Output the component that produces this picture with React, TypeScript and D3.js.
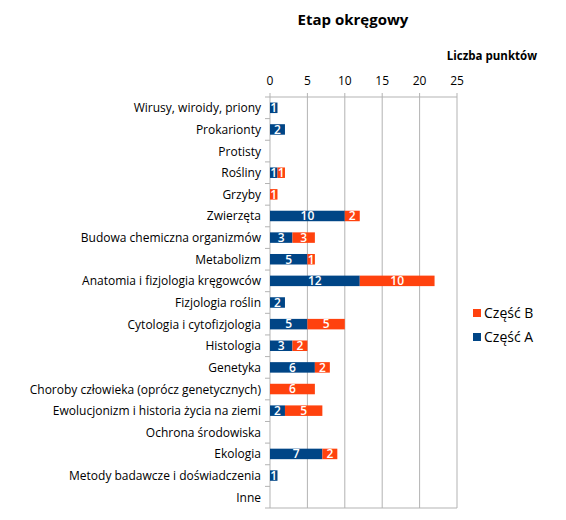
import { useEffect, useRef } from "react";
import * as d3 from "d3";

const categories = [
  "Wirusy, wiroidy, priony",
  "Prokarionty",
  "Protisty",
  "Rośliny",
  "Grzyby",
  "Zwierzęta",
  "Budowa chemiczna organizmów",
  "Metabolizm",
  "Anatomia i fizjologia kręgowców",
  "Fizjologia roślin",
  "Cytologia i cytofizjologia",
  "Histologia",
  "Genetyka",
  "Choroby człowieka (oprócz genetycznych)",
  "Ewolucjonizm i historia życia na ziemi",
  "Ochrona środowiska",
  "Ekologia",
  "Metody badawcze i doświadczenia",
  "Inne",
];
const partA = [1, 2, 0, 1, 0, 10, 3, 5, 12, 2, 5, 3, 6, 0, 2, 0, 7, 1, 0];
const partB = [0, 0, 0, 1, 1, 2, 3, 1, 10, 0, 5, 2, 2, 6, 5, 0, 2, 0, 0];
const xTicks = [0, 5, 10, 15, 20, 25];

const BLUE = "#004586";
const ORANGE = "#ff420e";
const FONT = "'Open Sans', sans-serif";

export default function App() {
  const svgRef = useRef<SVGSVGElement | null>(null);

  useEffect(() => {
    if (!svgRef.current) return;
    const svg = d3.select(svgRef.current);
    svg.selectAll("*").remove();

    const left = 270, right = 457, top = 97, bottom = 508;
    const x = d3.scaleLinear().domain([0, 25]).range([left, right]);
    const y = d3.scaleBand().domain(categories).range([top, bottom]).paddingInner(0);
    const barH = 10.5;

    // title
    svg.append("text").attr("x", 353).attr("y", 25).attr("text-anchor", "middle")
      .attr("font-family", FONT).attr("font-size", 15).attr("font-weight", "bold")
      .attr("fill", "#000").text("Etap okręgowy");
    svg.append("text").attr("x", 537).attr("y", 60).attr("text-anchor", "end")
      .attr("font-family", FONT).attr("font-size", 11.5).attr("font-weight", "bold")
      .attr("fill", "#000").text("Liczba punktów");

    // grid lines
    svg.append("g").selectAll("line").data(xTicks).enter().append("line")
      .attr("x1", (d) => x(d)).attr("x2", (d) => x(d))
      .attr("y1", top - 4).attr("y2", bottom)
      .attr("stroke", "#b3b3b3").attr("stroke-width", 1);
    svg.append("line").attr("x1", left).attr("x2", right).attr("y1", top).attr("y2", top)
      .attr("stroke", "#b3b3b3");
    svg.append("line").attr("x1", left).attr("x2", right).attr("y1", bottom).attr("y2", bottom)
      .attr("stroke", "#b3b3b3");

    // x tick labels
    svg.append("g").selectAll("text").data(xTicks).enter().append("text")
      .attr("x", (d) => x(d)).attr("y", 85).attr("text-anchor", "middle")
      .attr("font-family", FONT).attr("font-size", 12).attr("fill", "#000")
      .text((d) => d);

    // category ticks on the left
    const bounds = d3.range(categories.length + 1).map((i) => top + i * y.step());
    svg.append("g").selectAll("line").data(bounds).enter().append("line")
      .attr("x1", left - 5).attr("x2", left).attr("y1", (d) => d).attr("y2", (d) => d)
      .attr("stroke", "#b3b3b3");

    // category labels
    svg.append("g").selectAll("text").data(categories).enter().append("text")
      .attr("x", 261).attr("y", (d) => (y(d) ?? 0) + y.bandwidth() / 2 + 4.5)
      .attr("text-anchor", "end").attr("font-family", FONT).attr("font-size", 12)
      .attr("fill", "#000").text((d) => d);

    // stacked bars
    const rows = categories.map((c, i) => ({ c, a: partA[i], b: partB[i] }));
    const segs: { c: string; x0: number; x1: number; v: number; color: string }[] = [];
    rows.forEach((r) => {
      if (r.a > 0) segs.push({ c: r.c, x0: 0, x1: r.a, v: r.a, color: BLUE });
      if (r.b > 0) segs.push({ c: r.c, x0: r.a, x1: r.a + r.b, v: r.b, color: ORANGE });
    });
    const g = svg.append("g");
    g.selectAll("rect").data(segs).enter().append("rect")
      .attr("x", (d) => x(d.x0)).attr("width", (d) => x(d.x1) - x(d.x0))
      .attr("y", (d) => (y(d.c) ?? 0) + (y.bandwidth() - barH) / 2).attr("height", barH)
      .attr("fill", (d) => d.color);
    g.selectAll("text").data(segs).enter().append("text")
      .attr("x", (d) => (x(d.x0) + x(d.x1)) / 2)
      .attr("y", (d) => (y(d.c) ?? 0) + y.bandwidth() / 2 + 4.3)
      .attr("text-anchor", "middle").attr("font-family", FONT).attr("font-size", 12)
      .attr("font-weight", 600).attr("fill", "#fff").text((d) => d.v);

    // legend
    const legend = [
      { name: "Część B", color: ORANGE, y: 313 },
      { name: "Część A", color: BLUE, y: 337 },
    ];
    const lg = svg.append("g");
    lg.selectAll("rect").data(legend).enter().append("rect")
      .attr("x", 473).attr("y", (d) => d.y - 4).attr("width", 8).attr("height", 8)
      .attr("fill", (d) => d.color);
    lg.selectAll("text").data(legend).enter().append("text")
      .attr("x", 484).attr("y", (d) => d.y + 5).attr("font-family", FONT)
      .attr("font-size", 14).attr("fill", "#000").text((d) => d.name);
  }, []);

  return (
    <svg
      ref={svgRef}
      width={566}
      height={520}
      style={{ position: "absolute", left: 0, top: 0, background: "#fff" }}
    />
  );
}
